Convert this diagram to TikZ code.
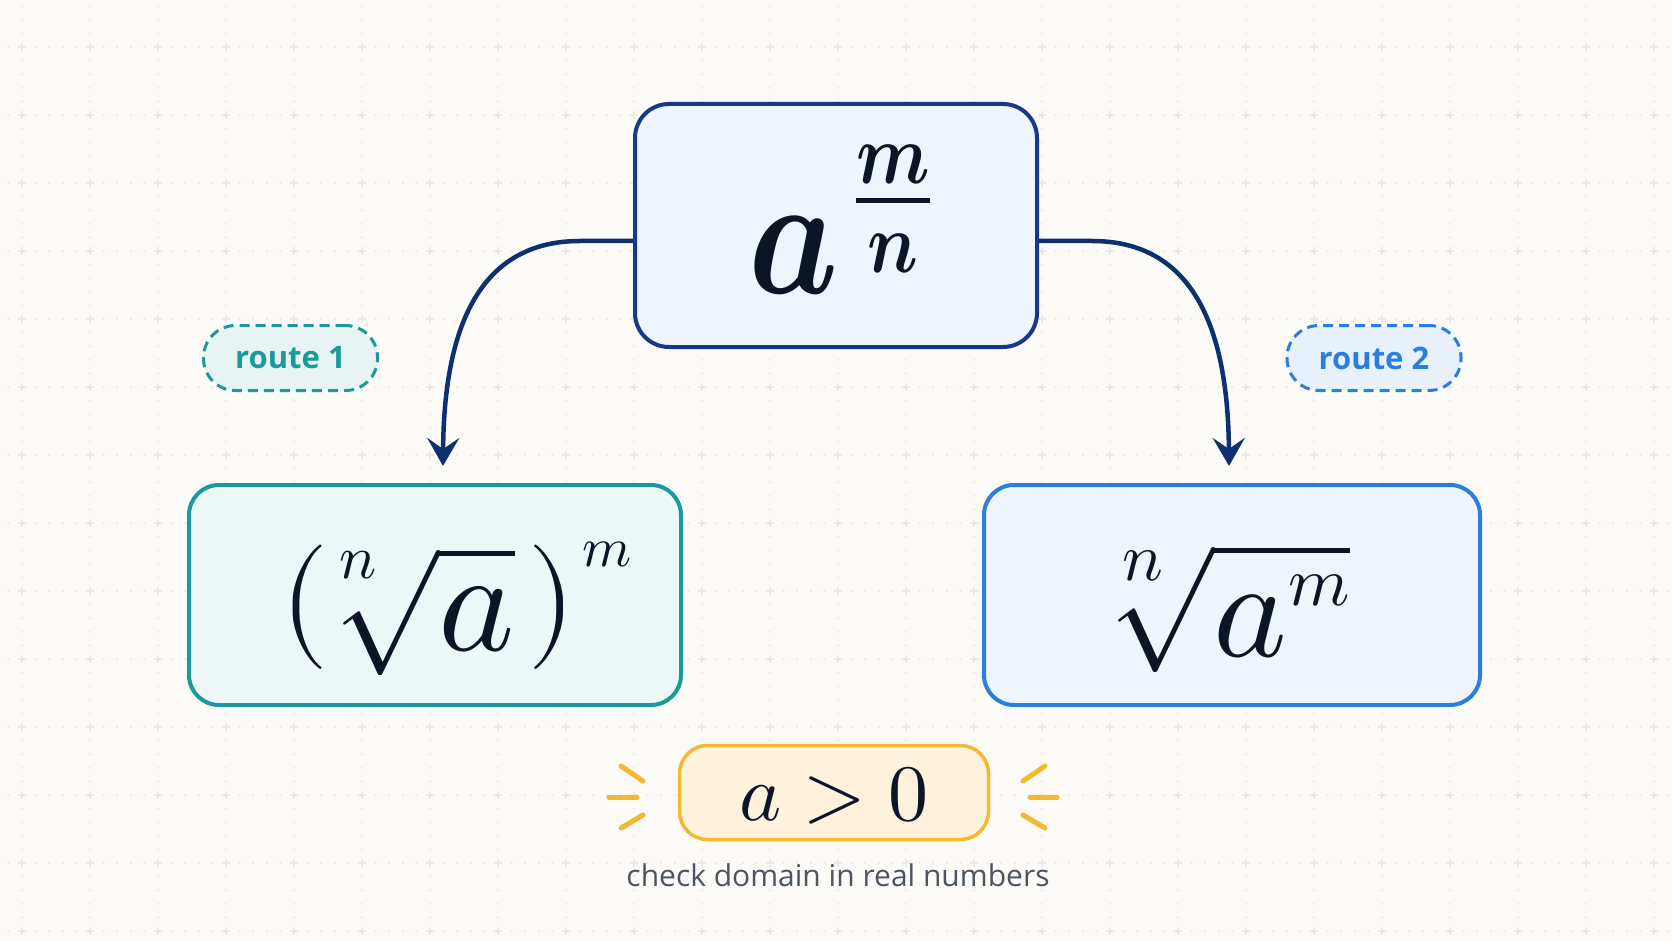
\documentclass[tikz,border=0pt]{standalone}
\usepackage{unicode-math}
\setmainfont{Open Sans}
\setmathfont{Latin Modern Math}
\usetikzlibrary{arrows.meta}
\definecolor{bg}{HTML}{FCFBF7}
\definecolor{griddot}{HTML}{EDE9E2}
\definecolor{gridx}{HTML}{EEEAE3}
\definecolor{navy}{HTML}{163A87}
\definecolor{navyfill}{HTML}{EEF5FD}
\definecolor{arrowc}{HTML}{0E2F70}
\definecolor{teal}{HTML}{1A9A9C}
\definecolor{tealfill}{HTML}{EEF7F7}
\definecolor{tealpill}{HTML}{E8F4F4}
\definecolor{blue}{HTML}{2A7FDE}
\definecolor{bluefill}{HTML}{EEF5FD}
\definecolor{bluepill}{HTML}{E8F1FB}
\definecolor{amber}{HTML}{F4B930}
\definecolor{amberfill}{HTML}{FDF3DC}
\definecolor{ink}{HTML}{0B1526}
\definecolor{capgrey}{HTML}{4B5563}
\newcommand{\sizedmath}[2]{\mbox{\fontsize{#1}{#1}\selectfont$#2$}}
\tikzset{
  griddots/.style={griddot, line width=2.4pt, line cap=round, dash pattern=on 0pt off 13.6pt},
  gridcross/.style={gridx, line width=1.3pt},
  mainbox/.style={draw=navy, fill=navyfill, line width=4pt, rounded corners=34pt,
    minimum width=402pt, minimum height=243pt, inner sep=0pt},
  tealbox/.style={draw=teal, fill=tealfill, line width=4pt, rounded corners=30pt,
    minimum width=492pt, minimum height=220pt, inner sep=0pt},
  bluebox/.style={draw=blue, fill=bluefill, line width=4pt, rounded corners=30pt,
    minimum width=496pt, minimum height=220pt, inner sep=0pt},
  badge/.style={draw=amber, fill=amberfill, line width=3.5pt, rounded corners=28pt,
    minimum width=309pt, minimum height=94pt, inner sep=0pt},
  pill/.style={line width=3pt, dash pattern=on 10pt off 6pt, rounded corners=32pt,
    minimum width=174pt, minimum height=65pt, inner sep=0pt,
    font=\fontsize{31}{36}\selectfont\bfseries},
  formula/.style={text=ink, inner sep=0pt, anchor=base},
  arr/.style={draw=arrowc, line width=4.5pt,
    -{Stealth[length=28pt,width=32pt,inset=11pt]}},
  spark/.style={draw=amber, line width=5pt, line cap=round},
}
\begin{document}
\begin{tikzpicture}[x=1pt,y=-1pt]
\useasboundingbox (0,0) rectangle (1672,941);
\fill[bg] (0,0) rectangle (1672,941);
% background grid
\foreach \i in {0,...,24} \draw[griddots] (22+68*\i,-21) -- (22+68*\i,960);
\foreach \j in {0,...,13} \draw[griddots] (-46,47+68*\j) -- (1700,47+68*\j);
\foreach \i in {0,...,24} \foreach \j in {0,...,13}
  \draw[gridcross] (18+68*\i,47+68*\j) -- ++(8,0) (22+68*\i,43+68*\j) -- ++(0,8);

% boxes
\node[mainbox] (top) at (836,225.5) {};
\node[tealbox] (left) at (435,595) {};
\node[bluebox] (right) at (1232,595) {};
\node[badge] (cond) at (834,792.5) {};
\node[pill, draw=teal, fill=tealpill, text=teal] (r1) at (290.5,358) {route 1};
\node[pill, draw=blue, fill=bluepill, text=blue] (r2) at (1374,358) {route 2};

% formulas
\node[formula, transform shape, xscale=0.83, font=\fontsize{172}{180}\selectfont] (topf) at (840,293)
  {$\symbfit{a}^{\mkern3mu\frac{\symbfit{m}}{\symbfit{n}}}$};
\node[formula, font=\fontsize{125}{130}\selectfont] (leftf) at (456,650)
  {\raisebox{12pt}{$($}\kern10pt\raisebox{72pt}{\sizedmath{62}{n}}\kern-42pt$\sqrt{\sizedmath{145}{a}}$\kern12pt\raisebox{12pt}{$)$}\kern6pt\raisebox{84pt}{\sizedmath{56}{m}}};
\node[formula, font=\fontsize{125}{130}\selectfont] (rightf) at (1236,656)
  {\raisebox{76pt}{\sizedmath{68}{n}}\kern-53pt$\sqrt{\sizedmath{140}{a^{\scriptscriptstyle m}}}$};
\node[formula, font=\fontsize{80}{84}\selectfont] (condf) at (834,820)
  {$a > 0$};
\node[text=capgrey, anchor=base, font=\fontsize{30}{34}\selectfont] (cap) at (838,886)
  {check domain in real numbers};

% arrows
\coordinate (ls) at (580,241);
\coordinate (lend) at (443,466);
\coordinate (rs) at (1092,241);
\coordinate (rend) at (1229,466);
\draw[arr] (top.west |- ls) -- (ls) .. controls (490,241) and (444,310) .. (lend);
\draw[arr] (top.east |- rs) -- (rs) .. controls (1182,241) and (1228,310) .. (rend);

% sparks
\draw[spark] (621,766) -- (643,781);
\draw[spark] (609,797) -- (637,797);
\draw[spark] (621,828) -- (643,815);
\draw[spark] (1045,766) -- (1023,781);
\draw[spark] (1030,797) -- (1057,797);
\draw[spark] (1045,828) -- (1023,815);
\end{tikzpicture}
\end{document}
